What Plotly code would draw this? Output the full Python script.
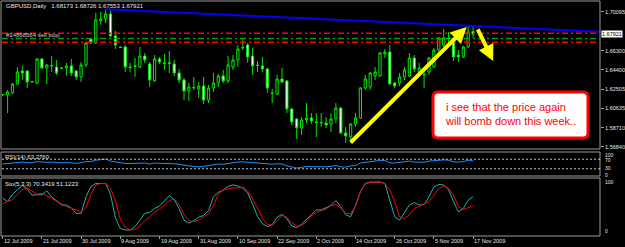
import plotly.graph_objects as go

W, H = 625, 247

# ---------------- data ----------------
bars = list(range(97))
opens = [1.6194,1.6194,1.6214,1.6302,1.6430,1.6430,1.6322,1.6312,1.6548,1.6459,
         1.6479,1.6469,1.6455,1.6459,1.6479,1.6430,1.6371,1.6489,1.6744,1.6705,
         1.6921,1.6941,1.6990,1.6774,1.6665,1.6665,1.6469,1.6474,1.6469,1.6577,
         1.6499,1.6332,1.6548,1.6509,1.6504,1.6499,1.6410,1.6341,1.6233,1.6263,
         1.6253,1.6282,1.6145,1.6263,1.6312,1.6381,1.6332,1.6469,1.6538,1.6655,
         1.6685,1.6577,1.6489,1.6479,1.6450,1.6214,1.6204,1.6351,1.6332,1.6057,
         1.5959,1.5870,1.5949,1.5968,1.5929,1.5919,1.5919,1.5909,1.5959,1.6066,
         1.5821,1.5782,1.5909,1.5968,1.6263,1.6273,1.6381,1.6381,1.6597,1.6616,
         1.6312,1.6312,1.6371,1.6381,1.6557,1.6420,1.6391,1.6420,1.6469,1.6636,
         1.6685,1.6754,1.6715,1.6587,1.6567,1.6665,1.68173]
highs = [1.6204,1.6243,1.6312,1.6469,1.6479,1.6440,1.6332,1.6557,1.6557,1.6499,
         1.6577,1.6538,1.6469,1.6509,1.6548,1.6440,1.6518,1.6715,1.6754,1.7000,
         1.7010,1.7029,1.7029,1.6823,1.6670,1.6685,1.6509,1.6557,1.6665,1.6606,
         1.6518,1.6587,1.6567,1.6597,1.6626,1.6538,1.6450,1.6361,1.6312,1.6371,
         1.6322,1.6371,1.6292,1.6410,1.6400,1.6440,1.6577,1.6587,1.6685,1.6744,
         1.6705,1.6655,1.6528,1.6567,1.6459,1.6253,1.6391,1.6459,1.6341,1.6066,
         1.5968,1.5978,1.6115,1.6017,1.6017,1.6017,1.5978,1.6017,1.6115,1.6076,
         1.5880,1.5919,1.6017,1.6273,1.6391,1.6420,1.6469,1.6616,1.6646,1.6685,
         1.6322,1.6410,1.6469,1.6607,1.6587,1.6509,1.6420,1.6567,1.6655,1.6764,
         1.6842,1.6813,1.6764,1.6636,1.6675,1.6872,1.68726]
lows = [1.6184,1.6017,1.6204,1.6292,1.6341,1.6263,1.6312,1.6302,1.6449,1.6302,
        1.6420,1.6391,1.6449,1.6381,1.6381,1.6341,1.6322,1.6469,1.6695,1.6695,
        1.6882,1.6901,1.6764,1.6646,1.6655,1.6420,1.6420,1.6371,1.6459,1.6509,
        1.6273,1.6322,1.6499,1.6440,1.6410,1.6381,1.6312,1.6145,1.6135,1.6243,
        1.6165,1.6106,1.6115,1.6224,1.6273,1.6312,1.6312,1.6440,1.6469,1.6636,
        1.6509,1.6391,1.6420,1.6420,1.6214,1.6115,1.6194,1.6312,1.6017,1.5900,
        1.5762,1.5801,1.5919,1.5909,1.5782,1.5880,1.5870,1.5831,1.5919,1.5811,
        1.5723,1.5752,1.5880,1.5959,1.6243,1.6243,1.6341,1.6371,1.6557,1.6292,
        1.6263,1.6282,1.6341,1.6371,1.6420,1.6371,1.6263,1.6391,1.6459,1.6616,
        1.6665,1.6685,1.6528,1.6518,1.6557,1.6655,1.67553]
closes = [1.6199,1.6224,1.6302,1.6420,1.6410,1.6322,1.6327,1.6548,1.6459,1.6489,
          1.6484,1.6410,1.6459,1.6479,1.6410,1.6371,1.6489,1.6705,1.6705,1.6931,
          1.6941,1.6990,1.6774,1.6685,1.6660,1.6469,1.6464,1.6479,1.6577,1.6538,
          1.6341,1.6548,1.6518,1.6504,1.6509,1.6410,1.6341,1.6233,1.6273,1.6268,
          1.6282,1.6145,1.6263,1.6312,1.6381,1.6332,1.6489,1.6538,1.6646,1.6660,
          1.6567,1.6479,1.6484,1.6450,1.6263,1.6209,1.6351,1.6322,1.6057,1.5929,
          1.5870,1.5949,1.5968,1.5939,1.5924,1.5924,1.5900,1.5959,1.6066,1.5821,
          1.5792,1.5909,1.5968,1.6263,1.6351,1.6410,1.6420,1.6607,1.6616,1.6302,
          1.6282,1.6371,1.6440,1.6557,1.6450,1.6459,1.6396,1.6557,1.6636,1.6754,
          1.6754,1.6749,1.6567,1.6567,1.6665,1.6813,1.67921]

rsi = [50,52,55,58, 58,56,55,60,57,
       57,58,56,55,56,54,53,55,
       60,60,66,68,71,62,58,56,
       52,52,53,55,54,50,
       54,53,53,53,51,49,44,42,40,38,
       40,44,48,50,49,53,55,58,
       59,57,54,54,53,49,49,51,50,42,36,33,
       36,40,39,38,39,38,40,44,38,37,42,44,
       54,57,59,60,65,65,55,54,56,58,62,58,
       59,57,62,64,67,67,66,59,58,60,66,63.276]

sto_k = [67,60,75,85,93,86,73,74,74,82,
         69,62,53,53,47,36,36,70,91,97,
         97,97,75,27,5,2,2,9,22,36,
         38,46,51,62,72,64,46,22,16,21,
         28,32,41,70,79,83,91,94,92,87,
         78,55,30,15,9,13,28,34,25,10,
         7,14,24,35,43,43,47,52,62,50,
         33,29,52,80,97,100,100,100,97,63,
         29,22,39,53,58,53,54,70,90,95,
         94,84,60,39,46,63,70.3419]
sto_d = [56,60,64,75,84,88,81,75,77,72,
         67,60,56,50,46,43,39,48,75,94,
         97,97,88,62,24,8,2,3,11,21,
         29,39,45,53,62,65,54,34,21,19,
         22,29,35,51,76,84,86,88,88,90,
         82,66,47,26,13,12,20,32,28,17,
         10,11,19,31,38,42,45,52,54,47,
         36,35,50,80,96,99,100,100,97,84,
         60,29,25,33,46,51,56,60,73,87,
         92,87,73,50,44,47,51.1223]

date_bars = [0, 8, 16, 24, 32, 40, 48, 56, 64, 72, 80, 88, 96]
date_labels = ["12 Jul 2009", "21 Jul 2009", "30 Jul 2009", "9 Aug 2009",
               "19 Aug 2009", "31 Aug 2009", "10 Sep 2009", "22 Sep 2009",
               "2 Oct 2009", "14 Oct 2009", "26 Oct 2009", "5 Nov 2009",
               "17 Nov 2009"]

price_ticks = [1.70095, 1.66300, 1.64400, 1.62505, 1.60635, 1.58710, 1.56840]
last_price = 1.67921
rsi_levels = [70, 30]
red_levels = [1.6800, 1.6712]
green_levels = [1.6749]
trend_x = [20.9, 121.9]
trend_y = [1.7036, 1.6815]
arrow1 = dict(x0=70.7, y0=1.5713, x1=94.7, y1=1.6862)
arrow2 = dict(x0=96.8, y0=1.6852, x1=100.1, y1=1.6528)

# ---------------- helpers (pixel -> paper) ----------------
def px(x):
    return x / W

def py(y):
    return 1 - y / H

XR = [-0.143, 121.9]
XD = [px(2), px(600)]
FONT = "Liberation Sans, Arial, sans-serif"
GRAY = "#9A9A9A"

fig = go.Figure()

fig.add_trace(go.Candlestick(
    x=bars, open=opens, high=highs, low=lows, close=closes,
    xaxis="x", yaxis="y",
    increasing=dict(line=dict(color="#00E600", width=1), fillcolor="#000000"),
    decreasing=dict(line=dict(color="#00E600", width=1), fillcolor="#FFFFFF"),
    whiskerwidth=0, showlegend=False, hoverinfo="skip"))

fig.add_trace(go.Scatter(x=trend_x, y=trend_y, mode="lines", xaxis="x", yaxis="y",
                         line=dict(color="#0000FF", width=2), showlegend=False, hoverinfo="skip"))

fig.add_trace(go.Scatter(x=bars, y=rsi, mode="lines", xaxis="x2", yaxis="y2",
                         line=dict(color="#1E90FF", width=1), showlegend=False, hoverinfo="skip"))

fig.add_trace(go.Scatter(x=bars, y=sto_k, mode="lines", xaxis="x3", yaxis="y3",
                         line=dict(color="#20B2AA", width=1), showlegend=False, hoverinfo="skip"))
fig.add_trace(go.Scatter(x=bars, y=sto_d, mode="lines", xaxis="x3", yaxis="y3",
                         line=dict(color="#FF0000", width=1), showlegend=False, hoverinfo="skip"))

shapes = []
# panel frames
for (y0, y1) in [(1, 149), (152, 176), (178, 236)]:
    shapes.append(dict(type="rect", xref="paper", yref="paper",
                       x0=px(1), x1=px(600), y0=py(y1), y1=py(y0),
                       line=dict(color=GRAY, width=1), layer="above"))
# order levels
for lv in red_levels:
    shapes.append(dict(type="line", xref="paper", yref="y", x0=XD[0], x1=XD[1], y0=lv, y1=lv,
                       line=dict(color="#FF0000", width=1.5, dash="6px,3px,2px,3px")))
for lv in green_levels:
    shapes.append(dict(type="line", xref="paper", yref="y", x0=XD[0], x1=XD[1], y0=lv, y1=lv,
                       line=dict(color="#00A000", width=1.5, dash="6px,3px,2px,3px")))
for lv in rsi_levels:
    shapes.append(dict(type="line", xref="paper", yref="y2", x0=XD[0], x1=XD[1], y0=lv, y1=lv,
                       line=dict(color="#C8C8C8", width=1, dash="2px,2px")))

# rounded text box
bx0, by0, bx1, by1, r = 433, 92, 588, 138, 5
pts = (f"M {px(bx0+r)},{py(by0)} L {px(bx1-r)},{py(by0)} Q {px(bx1)},{py(by0)} {px(bx1)},{py(by0+r)} "
       f"L {px(bx1)},{py(by1-r)} Q {px(bx1)},{py(by1)} {px(bx1-r)},{py(by1)} "
       f"L {px(bx0+r)},{py(by1)} Q {px(bx0)},{py(by1)} {px(bx0)},{py(by1-r)} "
       f"L {px(bx0)},{py(by0+r)} Q {px(bx0)},{py(by0)} {px(bx0+r)},{py(by0)} Z")
shapes.append(dict(type="path", xref="paper", yref="paper", path=pts,
                   fillcolor="#FFFFFF", line=dict(color="#FF0000", width=3), layer="above"))

ann = []
small = dict(family=FONT, size=6, color="#E6E6E6")
ann.append(dict(x=px(4), y=py(6.5), xref="paper", yref="paper", xanchor="left", yanchor="middle",
                showarrow=False, font=small,
                text="GBPUSD,Daily\u00a0\u00a0 1.68173 1.68726 1.67553 1.67921"))
ann.append(dict(x=px(4), y=py(34.5), xref="paper", yref="paper", xanchor="left", yanchor="middle",
                showarrow=False, font=dict(family=FONT, size=6, color="#C8C8C8"),
                text="#14868564 sell stop"))
ann.append(dict(x=px(3), y=py(157), xref="paper", yref="paper", xanchor="left", yanchor="middle",
                showarrow=False, font=small, text="RSI(14) 63.2760"))
ann.append(dict(x=px(3), y=py(184), xref="paper", yref="paper", xanchor="left", yanchor="middle",
                showarrow=False, font=small, text="Sto(5,3,3) 70.3419 51.1223"))
for txt, yy in [("100", 154.5), ("70", 160), ("30", 168), ("0", 174.5), ("100", 182), ("0", 231)]:
    ann.append(dict(x=px(603), y=py(yy), xref="paper", yref="paper", xanchor="left", yanchor="middle",
                    showarrow=False, font=dict(family=FONT, size=5, color="#E6E6E6"), text=txt))
for b, lab in zip(date_bars, date_labels):
    ann.append(dict(x=b, y=py(241), xref="x3", yref="paper", xanchor="left", yanchor="middle",
                    xshift=-1, showarrow=False,
                    font=dict(family=FONT, size=5.5, color="#E6E6E6"), text=lab))
ann.append(dict(x=px(601), y=last_price, xref="paper", yref="y", xanchor="left", yanchor="middle",
                showarrow=False, bgcolor="#FFFFFF", borderpad=0,
                font=dict(family=FONT, size=5.5, color="#000000"), text=f"{last_price:.5f}"))
ann.append(dict(x=px(443), y=py(113.5), xref="paper", yref="paper", xanchor="left", yanchor="middle",
                align="left", showarrow=False,
                font=dict(family=FONT, size=11, color="#FF0000"),
                text="i see that the price again<br>will bomb down this week.."))
for a in (arrow1, arrow2):
    ann.append(dict(x=a["x1"], y=a["y1"], ax=a["x0"], ay=a["y0"], xref="x", yref="y",
                    axref="x", ayref="y", text="", showarrow=True, arrowhead=2,
                    arrowsize=0.8, arrowwidth=4, arrowcolor="#FFFF00", standoff=0))

ax_common = dict(range=XR, domain=XD, showgrid=False, zeroline=False, showticklabels=False,
                 fixedrange=True)

fig.update_layout(
    width=W, height=H, margin=dict(l=0, r=0, t=0, b=0),
    paper_bgcolor="#000000", plot_bgcolor="#000000",
    showlegend=False, boxgap=0.35,
    xaxis=dict(**ax_common, anchor="y", rangeslider=dict(visible=False)),
    xaxis2=dict(**ax_common, anchor="y2", matches="x"),
    xaxis3=dict(**ax_common, anchor="y3", matches="x", ticks="outside", ticklen=3,
                tickcolor=GRAY, tickvals=date_bars),
    yaxis=dict(domain=[py(149), py(2)], range=[1.5664, 1.7107], side="right", anchor="x",
               showgrid=False, zeroline=False, tickvals=price_ticks,
               ticktext=[f"{v:.5f}" for v in price_ticks], ticks="outside", ticklen=3,
               tickcolor=GRAY, tickfont=dict(family=FONT, size=5.5, color="#E6E6E6"),
               showline=False),
    yaxis2=dict(domain=[py(176), py(152)], range=[0, 100], side="right", anchor="x2",
                showgrid=False, zeroline=False, showticklabels=False),
    yaxis3=dict(domain=[py(235), py(178)], range=[-8.2, 108.2], side="right", anchor="x3",
                showgrid=False, zeroline=False, showticklabels=False),
    shapes=shapes, annotations=ann,
)

fig.write_html("out.html", config={"displayModeBar": False})
